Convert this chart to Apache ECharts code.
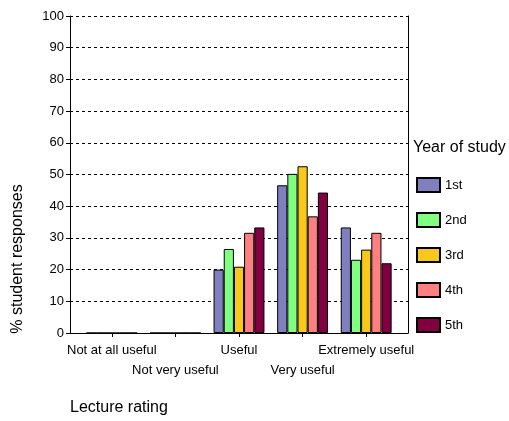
<!DOCTYPE html>
<html>
<head>
<meta charset="utf-8">
<script src="https://cdn.jsdelivr.net/npm/echarts@6/dist/echarts.min.js"></script>
<style>
html,body{margin:0;padding:0;background:#fff;}
#main{width:509px;height:421px;}
</style>
</head>
<body>
<div id="main"></div>
<script>
var categories = ['Not at all useful', 'Not very useful', 'Useful', 'Very useful', 'Extremely useful'];
var years = ['1st', '2nd', '3rd', '4th', '5th'];
var colors = ['#8080C0', '#80FF80', '#F8C81C', '#FF8080', '#800040'];
var year1 = [0, 0, 20.0, 46.6, 33.3];
var year2 = [0, 0, 26.5, 50.2, 23.1];
var year3 = [0, 0, 20.9, 52.6, 26.3];
var year4 = [0, 0, 31.6, 36.8, 31.6];
var year5 = [0, 0, 33.3, 44.3, 22.0];
var allData = [year1, year2, year3, year4, year5];

var font = 'Liberation Sans, Arial, sans-serif';
var chart = echarts.init(document.getElementById('main'));

var series = [];
for (var i = 0; i < years.length; i++) {
	series.push({
		name: years[i],
		type: 'bar',
		xAxisIndex: 1,
		yAxisIndex: 2,
		data: allData[i],
		barGap: 0,
		barCategoryGap: '20%',
		itemStyle: {color: colors[i], borderColor: '#000', borderWidth: 1},
		emphasis: {disabled: true}
	});
}

var option = {
	animation: false,
	textStyle: {fontFamily: font},
	grid: [
		{left: 70, right: 101, top: 16, height: 317},
		{left: 80, right: 111, top: 16, height: 317}
	],
	xAxis: [
		{
			gridIndex: 0, type: 'category', data: [''],
			axisLine: {show: true, lineStyle: {color: '#000', width: 1}},
			axisTick: {show: false}, axisLabel: {show: false}
		},
		{
			gridIndex: 1, type: 'category', data: categories,
			axisLine: {show: false},
			axisTick: {show: true, alignWithLabel: true, length: 4, lineStyle: {color: '#000'}},
			axisLabel: {
				color: '#000', fontSize: 13, fontFamily: font, margin: 7, lineHeight: 20,
				interval: 0,
				formatter: function (v, idx) { return idx % 2 ? '\n' + v : v; }
			}
		}
	],
	yAxis: [
		{
			gridIndex: 0, type: 'value', min: 0, max: 100, interval: 10,
			axisLine: {show: true, lineStyle: {color: '#000', width: 1}},
			axisTick: {show: true, length: 4, lineStyle: {color: '#000'}},
			axisLabel: {color: '#000', fontSize: 13, fontFamily: font, margin: 6},
			splitLine: {show: true, lineStyle: {color: '#000', type: [3, 3], width: 1}}
		},
		{
			gridIndex: 0, type: 'value', min: 0, max: 100, position: 'right',
			axisLine: {show: true, lineStyle: {color: '#000', width: 1}},
			axisTick: {show: false}, axisLabel: {show: false}, splitLine: {show: false}
		},
		{
			gridIndex: 1, type: 'value', min: 0, max: 100, show: false
		}
	],
	legend: {
		orient: 'vertical',
		left: 416, top: 177, padding: 0,
		itemWidth: 23, itemHeight: 14, itemGap: 19,
		icon: 'rect',
		textStyle: {color: '#000', fontSize: 13, fontFamily: font, lineHeight: 15},
		data: years,
		selectedMode: false
	},
	graphic: [
		{
			type: 'text', x: 413, y: 148,
			style: {text: 'Year of study', font: '16px ' + font, fill: '#000', textVerticalAlign: 'middle'}
		},
		{
			type: 'text', x: 18, y: 259, rotation: Math.PI / 2,
			style: {text: '% student responses', font: '16px ' + font, fill: '#000', textAlign: 'center', textVerticalAlign: 'middle'}
		},
		{
			type: 'text', x: 70, y: 408,
			style: {text: 'Lecture rating', font: '16px ' + font, fill: '#000', textVerticalAlign: 'middle'}
		}
	],
	series: series
};
chart.setOption(option);
</script>
</body>
</html>
